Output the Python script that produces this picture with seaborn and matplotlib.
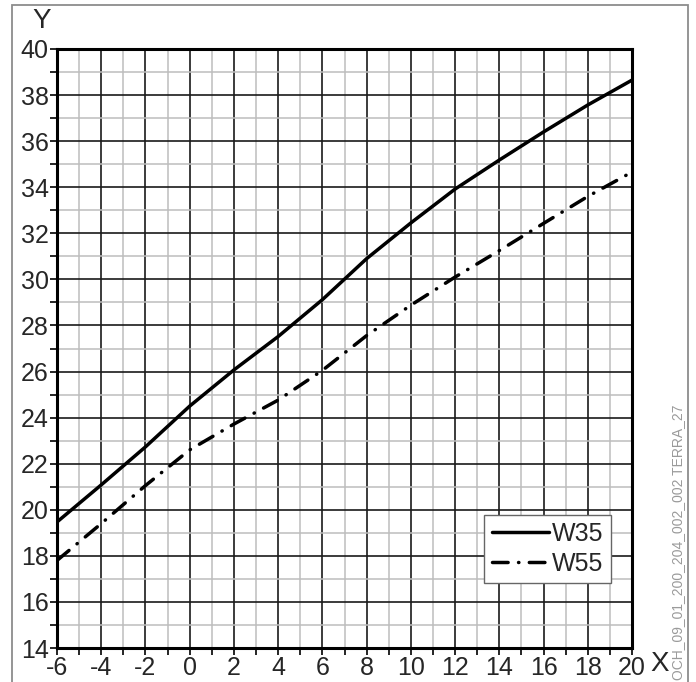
import numpy as np
import pandas as pd
import matplotlib
matplotlib.use("Agg")
import matplotlib.pyplot as plt
from matplotlib.patches import Rectangle
from matplotlib.ticker import MultipleLocator
import seaborn as sns

# --- data ---
x_vals = [-6, -4, -2, 0, 2, 4, 6, 8, 10, 12, 14, 16, 18, 20]
w35 = [19.47, 21.08, 22.73, 24.5, 26.07, 27.52, 29.12, 30.9, 32.45, 33.92, 35.18, 36.4, 37.57, 38.65]
w55 = [17.8, 19.4, 21.05, 22.6, 23.72, 24.76, 26.05, 27.56, 28.88, 30.1, 31.25, 32.43, 33.6, 34.66]
series_names = ["W35", "W55"]

df = pd.DataFrame({
    "x": x_vals * 2,
    "y": w35 + w55,
    "serie": [series_names[0]] * len(x_vals) + [series_names[1]] * len(x_vals),
})

sns.set_style("white")
plt.rcParams["font.family"] = ["Liberation Sans Narrow", "Liberation Sans", "DejaVu Sans"]
plt.rcParams["axes.unicode_minus"] = False

fig = plt.figure(figsize=(6.96, 6.82), dpi=100)
ax = fig.add_axes([57 / 696, 1 - 648 / 682, 575 / 696, 599 / 682])

# grid: dark every 2, light gray every 1
ax.xaxis.set_major_locator(MultipleLocator(2))
ax.xaxis.set_minor_locator(MultipleLocator(1))
ax.yaxis.set_major_locator(MultipleLocator(2))
ax.yaxis.set_minor_locator(MultipleLocator(1))
ax.grid(which="minor", color="#bdbdbd", linewidth=1.1, zorder=0)
ax.grid(which="major", color="#1a1a1a", linewidth=1.2, zorder=1)
ax.set_axisbelow(True)

sns.lineplot(data=df, x="x", y="y", style="serie", color="black",
             dashes={"W35": "", "W55": (4.5, 3.0, 0.1, 3.0)},
             linewidth=2.5, ax=ax, legend=True)
for ln in ax.get_lines():
    ln.set_dash_capstyle("round")
    ln.set_solid_joinstyle("round")

ax.set_xlim(-6, 20)
ax.set_ylim(14, 40)
ax.set_xlabel("")
ax.set_ylabel("")

for sp in ax.spines.values():
    sp.set_visible(True)
    sp.set_color("black")
    sp.set_linewidth(2.2)

ax.tick_params(which="both", direction="out", length=5, width=1.2, color="black",
               left=True, bottom=True, labelsize=18, pad=1)

# axis letters
fig.text(42 / 696, 1 - 21 / 682, "Y", fontsize=20, ha="center", va="center")
fig.text(660 / 696, 1 - 664 / 682, "X", fontsize=20, ha="center", va="center")

# legend
leg = ax.legend(loc="lower right", bbox_to_anchor=(0.963, 0.1085), fontsize=18,
                frameon=True, fancybox=False, framealpha=1, edgecolor="#666666",
                handlelength=2.3, handletextpad=0.1, labelspacing=0.22,
                borderpad=0.3, borderaxespad=0)
leg.get_frame().set_linewidth(1.0)
for h in leg.get_lines():
    h.set_color("black")
    h.set_linewidth(2.5)

# outer frame and drawing code
fig.patches.append(Rectangle((12 / 696, -0.05), 676 / 696, 1.05 - 5 / 682,
                             transform=fig.transFigure, fill=False,
                             edgecolor="#8c8c8c", linewidth=1.3))
fig.text(678 / 696, 2 / 682, "OCH_09_01_200_204_002_002 TERRA_27",
         rotation=90, fontsize=10, color="#9a9a9a", ha="center", va="bottom",
         family=["Liberation Sans", "DejaVu Sans"])

fig.savefig("out.png", dpi=100)
